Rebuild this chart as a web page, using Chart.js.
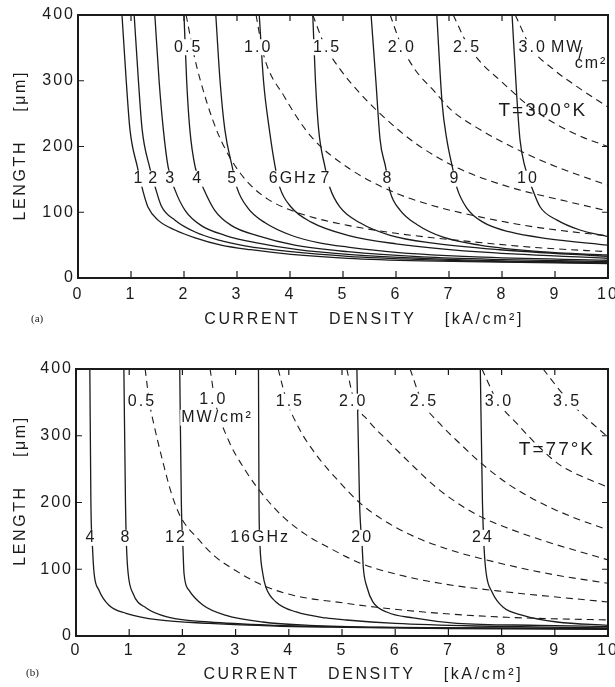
<!DOCTYPE html>
<html>
<head>
<meta charset="utf-8">
<script src="https://cdn.jsdelivr.net/npm/chart.js@4.4.1/dist/chart.umd.min.js"></script>
<style>
  body { margin: 0; background: #fff; width: 615px; height: 687px; position: relative; overflow: hidden; }
  .panel { position: absolute; left: 0; width: 615px; }
  #panelA { top: 0; height: 340px; }
  #panelB { top: 340px; height: 347px; }
  .tag { position: absolute; font-family: 'Liberation Serif', serif; font-size: 11px; color: #222; }
</style>
</head>
<body>
<div class="panel" id="panelA"><canvas id="chartA"></canvas></div>
<div class="panel" id="panelB"><canvas id="chartB"></canvas></div>
<div class="tag" style="left:31px; top:312px">(a)</div>
<div class="tag" style="left:26px; top:666px">(b)</div>
<script>
// (a) T = 300 K -- constant frequency curves, points are [current density kA/cm2, length um]
const a1GHz = [[0.83,400],[0.91,300],[0.98,226],[1.12,169],[1.23,131],[1.32,108],[1.51,88],[1.83,73],[2.21,61],[2.70,50],[3.26,43],[4.02,36],[5.09,30],[6.5,26],[8,24],[10,22]]
const a2GHz = [[1.06,400],[1.14,300],[1.21,226],[1.35,169],[1.45,140],[1.57,110],[1.83,88],[2.21,70],[2.64,58],[3.15,49],[4.02,40],[5.09,33],[6.5,28],[8,25],[10,23]]
const a3GHz = [[1.45,400],[1.53,300],[1.61,226],[1.70,169],[1.83,134],[2.02,103],[2.32,80],[2.77,65],[3.40,53],[4.15,43],[5.09,36],[6.5,30],[8,26],[10,24]]
const a4GHz = [[2.0,400],[2.05,300],[2.11,226],[2.21,169],[2.38,134],[2.58,103],[2.89,80],[3.40,64],[4.09,50],[5.09,40],[6.5,32],[8,28],[10,25]]
const a5GHz = [[2.6,400],[2.68,300],[2.77,226],[2.91,169],[3.0,137],[3.21,106],[3.53,84],[4.02,65],[4.58,53],[5.09,47],[6,39],[7.5,32],[10,27]]
const a6GHz = [[3.42,400],[3.5,300],[3.61,226],[3.72,169],[3.81,137],[4.02,108],[4.40,85],[5.09,65],[6,52],[7.5,40],[10,30]]
const a7GHz = [[4.43,400],[4.48,300],[4.54,226],[4.66,169],[4.75,138],[4.94,108],[5.32,84],[5.89,65],[6.70,53],[7.96,43],[10,33]]
const a8GHz = [[5.53,400],[5.62,300],[5.7,210],[5.8,170],[5.89,131],[6.08,103],[6.40,81],[6.89,62],[7.58,50],[8.72,40],[10,35]]
const a9GHz = [[6.77,400],[6.87,266],[6.96,210],[7.06,170],[7.15,137],[7.34,106],[7.64,85],[8.15,70],[8.85,60],[10,50]]
const a10GHz = [[8.19,400],[8.28,275],[8.34,210],[8.43,170],[8.58,134],[8.72,108],[9.04,88],[9.47,73],[10,63]]

// (a) constant power density curves, MW/cm2
const aP05 = [[2.04,400],[2.2,335],[2.42,270],[2.64,220],[2.89,180],[3.21,145],[3.58,120],[4.02,103],[4.53,90],[5.09,80],[6,68],[7.45,55],[8.7,46],[10,40]]
const aP10 = [[3.36,400],[3.5,340],[3.9,275],[4.4,215],[5.09,168],[5.94,131],[6.7,110],[7.58,93],[8.58,78],[10,64]]
const aP15 = [[4.43,400],[4.65,355],[4.94,318],[5.32,281],[5.7,250],[6.4,203],[7.2,166],[8.2,137],[9.2,117],[10,102]]
const aP20 = [[5.89,400],[6.1,354],[6.35,318],[6.7,286],[7.05,255],[7.6,225],[8.2,199],[9,170],[10,141]]
const aP25 = [[7.08,400],[7.35,355],[7.6,328],[8.0,298],[8.5,262],[9.0,235],[9.5,215],[10,200]]
const aP30 = [[8.25,400],[8.55,350],[8.96,318],[9.47,288],[10,260]]

// (a) curve labels: [text, J, L]
const aLabels = [
  ['1',1.15,151],['2',1.43,151],['3',1.75,151],['4',2.26,151],['5',2.92,151],
  ['6GHz',4.06,151],['7',4.68,151],['8',5.85,151],['9',7.11,151],['10',8.49,151],
  ['0.5',2.08,351],['1.0',3.40,351],['1.5',4.70,351],['2.0',6.11,351],['2.5',7.34,351],
  ['3.0',8.58,351],['MW',9.23,351],['/',9.5,340],['cm²',9.68,326]
]
const aTemp = ['T=300°K', 8.77, 255]

// (b) T = 77 K -- constant frequency curves
const b4GHz = [[0.26,400],[0.28,200],[0.31,133],[0.34,94],[0.43,69],[0.62,46],[0.94,34],[1.56,24],[2.5,19],[3.76,15],[5.08,13],[7,11],[10,10]]
const b8GHz = [[0.9,400],[0.93,200],[0.95,133],[0.98,94],[1.07,64],[1.32,42],[1.75,28],[2.5,21],[3.76,16],[5.5,13],[7.5,12],[10,11]]
const b12GHz = [[1.95,400],[1.98,200],[2.01,133],[2.03,94],[2.12,69],[2.39,46],[2.82,31],[3.51,21],[4.38,16],[6,13],[10,11]]
const b16GHz = [[3.43,400],[3.44,200],[3.46,133],[3.51,94],[3.57,73],[3.76,51],[4.14,36],[4.7,27],[5.08,24],[6,19],[7.5,15],[10,12]]
const b20GHz = [[5.28,400],[5.33,200],[5.38,133],[5.4,103],[5.47,73],[5.58,51],[5.84,36],[6.34,27],[7.16,19],[8.72,16],[10,14]]
const b24GHz = [[7.6,400],[7.64,200],[7.67,133],[7.71,94],[7.82,66],[8.03,43],[8.4,31],[9.04,21],[10,16]]

// (b) constant power density curves
const bP05 = [[1.3,400],[1.38,350],[1.47,315],[1.62,265],[1.8,212],[1.97,178],[2.3,145],[2.6,120],[3.0,98],[3.51,76],[4.08,61],[5.08,49],[5.65,43],[6.84,34],[8.1,28],[10,24]]
const bP10 = [[2.52,400],[2.62,350],[2.84,298],[3.2,246],[3.55,208],[3.9,178],[4.3,153],[4.76,132],[5.38,108],[5.9,95],[6.84,79],[8.1,66],[10,51]]
const bP15 = [[3.8,400],[3.95,355],[4.2,310],[4.53,270],[4.96,230],[5.34,199],[5.77,174],[6.33,150],[7.03,129],[7.97,109],[8.97,92],[10,79]]
const bP20 = [[5.09,400],[5.22,355],[5.5,322],[5.84,294],[6.28,259],[6.78,222],[7.27,194],[7.65,177],[8.1,162],[8.78,143],[10,114]]
const bP25 = [[6.28,400],[6.5,352],[6.84,318],[7.22,288],[7.6,260],[8.1,229],[8.72,200],[9.34,178],[10,159]]
const bP30 = [[7.63,400],[7.92,352],[8.29,318],[8.72,282],[9.1,256],[9.6,236],[10,223]]
const bP35 = [[8.78,400],[9.2,358],[9.6,326],[10,298]]

const bLabels = [
  ['4',0.28,147],['8',0.94,147],['12',1.88,147],['16GHz',3.46,147],['20',5.38,147],['24',7.65,147],
  ['0.5',1.24,351],['1.0',2.58,354],['MW/cm²',2.65,327],['1.5',4.02,351],['2.0',5.21,351],
  ['2.5',6.54,351],['3.0',7.95,351],['3.5',9.23,351]
]
const bTemp = ['T=77°K', 9.04, 279]

const xTitle = 'CURRENT    DENSITY    [kA/cm²]'
const yTitle = 'LENGTH    [μm]'

const ink = '#1b1b1b'
const face = "'Liberation Sans', Arial, sans-serif"

const spacing = {
  id: 'spacing',
  beforeDraw(chart) { chart.ctx.letterSpacing = '2px' }
}

const overlay = {
  id: 'overlay',
  afterDatasetsDraw(chart, args, opts) {
    const { ctx, chartArea: a, scales: { x, y } } = chart
    ctx.save()
    ctx.textAlign = 'center'
    ctx.textBaseline = 'middle'
    ctx.font = `16px ${face}`
    const placed = opts.labels.map(([text, jv, lv]) => [text, x.getPixelForValue(jv), y.getPixelForValue(lv)])
    // white gaps first so a neighbour's box never hides a label
    ctx.fillStyle = '#fff'
    placed.forEach(([text, px, py]) => {
      if (text === '/') return
      const w = ctx.measureText(text).width
      ctx.fillRect(px - w / 2 - 1, py - 8, w + 2, 16)
    })
    ctx.fillStyle = ink
    placed.forEach(([text, px, py]) => ctx.fillText(text, px, py))

    const [tt, tj, tl] = opts.temp
    ctx.font = `19px ${face}`
    ctx.fillText(tt, x.getPixelForValue(tj), y.getPixelForValue(tl))

    // frame and inward tick marks on all four sides
    ctx.strokeStyle = ink
    ctx.lineWidth = 2
    ctx.strokeRect(a.left, a.top, a.width, a.height)
    ctx.lineWidth = 1.2
    ctx.beginPath()
    x.ticks.forEach(t => {
      const px = x.getPixelForValue(t.value)
      ctx.moveTo(px, a.bottom); ctx.lineTo(px, a.bottom - 7)
      ctx.moveTo(px, a.top); ctx.lineTo(px, a.top + 6)
    })
    y.ticks.forEach(t => {
      const py = y.getPixelForValue(t.value)
      ctx.moveTo(a.left, py); ctx.lineTo(a.left + 6, py)
      ctx.moveTo(a.right, py); ctx.lineTo(a.right - 6, py)
    })
    ctx.stroke()

    // axis titles, widely letter-spaced like the original lettering
    ctx.letterSpacing = '2.6px'
    ctx.font = `16px ${face}`
    ctx.fillText(xTitle, a.left + a.width * 0.54, opts.xTitleY)
    ctx.translate(21, a.top + a.height * opts.yTitleAt)
    ctx.rotate(-Math.PI / 2)
    ctx.fillText(yTitle, 0, 0)
    ctx.restore()
  }
}

function curve(pts, dashed) {
  return {
    data: pts.map(([x, y]) => ({ x, y })),
    showLine: true,
    pointRadius: 0,
    borderColor: ink,
    borderWidth: dashed ? 1.1 : 1.3,
    borderDash: dashed ? [7, 5] : [],
    cubicInterpolationMode: 'monotone',
    fill: false
  }
}

function makeChart(id, freq, power, labels, temp, cfg) {
  const font = { family: face, size: 16 }
  return new Chart(document.getElementById(id), {
    type: 'scatter',
    data: {
      datasets: [...freq.map(c => curve(c, false)), ...power.map(c => curve(c, true))]
    },
    options: {
      responsive: true,
      maintainAspectRatio: false,
      animation: false,
      layout: { padding: { top: cfg.top, right: 7, left: 0, bottom: 0 } },
      plugins: {
        legend: { display: false },
        tooltip: { enabled: false },
        overlay: { labels, temp, xTitleY: cfg.xTitleY, yTitleAt: cfg.yTitleAt }
      },
      scales: {
        x: {
          type: 'linear', min: 0, max: 10,
          grid: { display: false, drawTicks: false },
          border: { display: false },
          ticks: { stepSize: 1, padding: cfg.tickPad, color: ink, font, maxRotation: 0 },
          title: { display: false, text: xTitle },
          afterFit(s) {
            s.height = cfg.xh
            s.paddingLeft = 0
            s.paddingRight = 0
          }
        },
        y: {
          min: 0, max: 400,
          grid: { display: false, drawTicks: false },
          border: { display: false },
          ticks: { stepSize: 100, padding: 3, color: ink, font },
          title: { display: false, text: yTitle },
          afterFit(s) {
            s.width = cfg.yw
            s.paddingTop = 0
            s.paddingBottom = 0
          }
        }
      }
    },
    plugins: [spacing, overlay]
  })
}

makeChart('chartA',
  [a1GHz, a2GHz, a3GHz, a4GHz, a5GHz, a6GHz, a7GHz, a8GHz, a9GHz, a10GHz],
  [aP05, aP10, aP15, aP20, aP25, aP30],
  aLabels, aTemp,
  { top: 15, xh: 62, yw: 78, tickPad: 7, xTitleY: 320, yTitleAt: 0.495 })

makeChart('chartB',
  [b4GHz, b8GHz, b12GHz, b16GHz, b20GHz, b24GHz],
  [bP05, bP10, bP15, bP20, bP25, bP30, bP35],
  bLabels, bTemp,
  { top: 29, xh: 51, yw: 76, tickPad: 5, xTitleY: 335, yTitleAt: 0.455 })
</script>
</body>
</html>
